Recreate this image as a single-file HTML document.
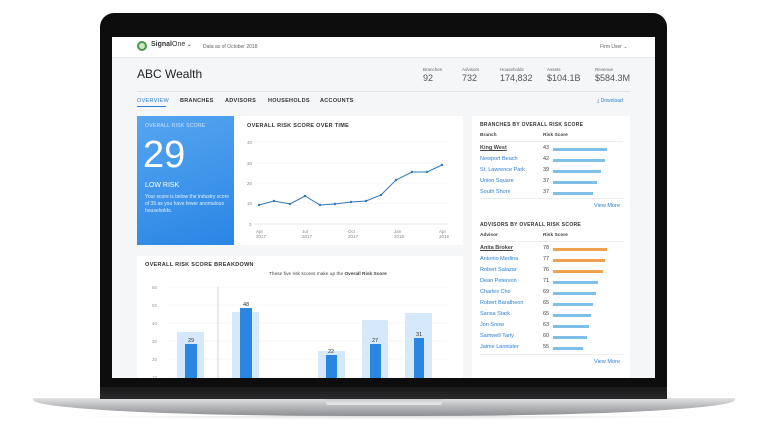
<!DOCTYPE html>
<html><head><meta charset="utf-8"><style>
*{margin:0;padding:0;box-sizing:border-box}
body{width:767px;height:431px;background:#fff;position:relative;overflow:hidden;font-family:"Liberation Sans",sans-serif}
.a{position:absolute;white-space:nowrap}
.t{font-size:5.5px;font-weight:bold;color:#333;letter-spacing:.3px}
.s{font-size:5px;color:#666}
.l{font-size:5.5px;color:#2a7fd4}
.n{font-size:5.5px;color:#444}
.bar{position:absolute;height:3px;background:#7fc0ea}
.bo{background:#f0a150}
</style></head><body>
<!-- base -->
<div class="a" style="left:33px;top:398px;width:702px;height:18px;background:linear-gradient(#e4e4e6,#b9babd 45%,#8e8f92);border-radius:2px 2px 50% 50%/2px 2px 100% 100%"></div>
<div class="a" style="left:325px;top:398px;width:118px;height:7px;background:linear-gradient(#c8c9cc,#e6e6e8);border-radius:0 0 4px 4px"></div>
<div class="a" style="left:60px;top:416px;width:648px;height:4px;background:radial-gradient(ellipse at top,#ddd,#fff 70%)"></div>
<!-- bezel -->
<div class="a" style="left:100px;top:13px;width:567px;height:386px;background:#0d0d0d;border-radius:14px 14px 0 0"></div>
<div class="a" style="left:100px;top:387px;width:567px;height:12px;background:linear-gradient(#1a1a1a,#2a2a2c)"></div>
<!-- screen -->
<div class="a" style="left:112px;top:37px;width:543px;height:341px;background:#f5f6f8;overflow:hidden">
 <div class="a" style="left:0;top:0;width:543px;height:21px;background:#fff;border-bottom:1px solid #e8e8e8"></div>
 <div class="a" style="left:25px;top:4px;width:10px;height:10px;border:2px solid #4a9a4a;border-radius:50%;background:#cfe8c8"></div>
 <div class="a" style="left:39px;top:4px;font-size:7px;font-weight:bold;color:#333">Signal<span style="font-weight:normal">One</span> <span style="font-size:5px">⌄</span></div>
 <div class="a s" style="left:91px;top:7px">Data as of October 2018</div>
 <div class="a s" style="left:488px;top:7px">Firm User ⌄</div>
 <div class="a" style="left:25px;top:30px;font-size:12px;color:#222">ABC Wealth</div>
 <div class="a s" style="left:311px;top:30px;font-size:4.5px">Branches</div><div class="a" style="left:311px;top:36px;font-size:9px;color:#555">92</div>
 <div class="a s" style="left:350px;top:30px;font-size:4.5px">Advisors</div><div class="a" style="left:350px;top:36px;font-size:9px;color:#555">732</div>
 <div class="a s" style="left:388px;top:30px;font-size:4.5px">Households</div><div class="a" style="left:388px;top:36px;font-size:9px;color:#555">174,832</div>
 <div class="a s" style="left:435px;top:30px;font-size:4.5px">Assets</div><div class="a" style="left:435px;top:36px;font-size:9px;color:#555">$104.1B</div>
 <div class="a s" style="left:483px;top:30px;font-size:4.5px">Revenue</div><div class="a" style="left:483px;top:36px;font-size:9px;color:#555">$584.3M</div>
 <div class="a" style="left:25px;top:54px;width:493px;height:1px;background:#e3e3e3"></div>
 <div class="a t" style="left:25px;top:61px;color:#2a7fd4;font-weight:normal">OVERVIEW</div>
 <div class="a" style="left:25px;top:69px;width:29px;height:1px;background:#2a7fd4"></div>
 <div class="a t" style="left:68px;top:61px">BRANCHES</div>
 <div class="a t" style="left:113px;top:61px">ADVISORS</div>
 <div class="a t" style="left:156px;top:61px">HOUSEHOLDS</div>
 <div class="a t" style="left:208px;top:61px">ACCOUNTS</div>
 <div class="a l" style="left:485px;top:61px;font-size:5px">⤓ Download</div>
 <!-- blue card -->
 <div class="a" style="left:25px;top:79px;width:97px;height:129px;background:linear-gradient(160deg,#56a6f0,#2a85e4)"></div>
 <div class="a" style="left:33px;top:86px;font-size:5px;color:#cfe6ff;letter-spacing:.3px">OVERALL RISK SCORE</div>
 <div class="a" style="left:31px;top:97px;font-size:38px;color:#fff;font-weight:300">29</div>
 <div class="a" style="left:33px;top:145px;font-size:7px;color:#fff">LOW RISK</div>
 <div class="a" style="left:33px;top:157px;font-size:5px;color:#e3f0ff;line-height:7px;white-space:normal;width:86px">Your score is below the industry score of 35 as you have fewer anomalous households.</div>
 <!-- line chart card -->
 <div class="a" style="left:122px;top:79px;width:229px;height:129px;background:#fff"></div>
 <div class="a t" style="left:135px;top:86px">OVERALL RISK SCORE OVER TIME</div>
 <svg class="a" style="left:122px;top:79px" width="229" height="129" font-family="Liberation Sans" font-size="4.5" fill="#888">
  <g stroke="#eee" stroke-width=".5"><line x1="20" y1="26" x2="215" y2="26"/><line x1="20" y1="47" x2="215" y2="47"/><line x1="20" y1="67" x2="215" y2="67"/><line x1="20" y1="87" x2="215" y2="87"/><line x1="20" y1="108" x2="215" y2="108" stroke="#ccc"/></g>
  <text x="13" y="28">40</text><text x="13" y="49">30</text><text x="13" y="69">20</text><text x="13" y="89">10</text><text x="15" y="110">0</text>
  <polyline fill="none" stroke="#2f78b8" stroke-width="1" points="25,89 40,85 56,88 71,80 86,89 101,88 117,86 132,85 147,79 162,64 178,56 193,56 208,49"/>
  <g fill="#2f78b8"><circle cx="25" cy="89" r="1.2"/><circle cx="40" cy="85" r="1.2"/><circle cx="56" cy="88" r="1.2"/><circle cx="71" cy="80" r="1.2"/><circle cx="86" cy="89" r="1.2"/><circle cx="101" cy="88" r="1.2"/><circle cx="117" cy="86" r="1.2"/><circle cx="132" cy="85" r="1.2"/><circle cx="147" cy="79" r="1.2"/><circle cx="162" cy="64" r="1.2"/><circle cx="178" cy="56" r="1.2"/><circle cx="193" cy="56" r="1.2"/><circle cx="208" cy="49" r="1.2"/></g>
  <text x="22" y="117">Apr</text><text x="22" y="122">2017</text><text x="68" y="117">Jul</text><text x="68" y="122">2017</text>
  <text x="114" y="117">Oct</text><text x="114" y="122">2017</text><text x="160" y="117">Jan</text><text x="160" y="122">2018</text><text x="205" y="117">Apr</text><text x="205" y="122">2018</text>
 </svg>
 <!-- breakdown card -->
 <div class="a" style="left:25px;top:219px;width:326px;height:140px;background:#fff"></div>
 <div class="a t" style="left:33px;top:225px">OVERALL RISK SCORE BREAKDOWN</div>
 <div class="a" style="left:157px;top:235px;font-size:4.8px;color:#444">These five risk scores make up the <b>Overall Risk Score</b></div>
 <svg class="a" style="left:25px;top:219px" width="326" height="140" font-family="Liberation Sans" font-size="4.5">
  <g stroke="#eee" stroke-width=".5"><line x1="30" y1="31" x2="310" y2="31"/><line x1="30" y1="49" x2="310" y2="49"/><line x1="30" y1="67" x2="310" y2="67"/><line x1="30" y1="85" x2="310" y2="85"/><line x1="30" y1="103" x2="310" y2="103"/><line x1="30" y1="121" x2="310" y2="121"/></g>
  <g fill="#999"><text x="15" y="33">60</text><text x="15" y="51">50</text><text x="15" y="69">40</text><text x="15" y="87">30</text><text x="15" y="105">20</text><text x="15" y="123">10</text></g>
  <line x1="81" y1="31" x2="81" y2="140" stroke="#bbb" stroke-width=".6"/>
  <g fill="#d6e9fb"><rect x="40" y="76" width="27" height="70"/><rect x="95" y="56" width="27" height="90"/><rect x="181" y="95" width="27" height="50"/><rect x="225" y="64" width="26" height="80"/><rect x="268" y="57" width="27" height="90"/></g>
  <g fill="#2a86e0"><rect x="48" y="88" width="12" height="60"/><rect x="103" y="52" width="12" height="90"/><rect x="189" y="99" width="11" height="50"/><rect x="233" y="88" width="11" height="60"/><rect x="277" y="82" width="10" height="60"/></g>
  <g fill="#333" font-size="5.5" text-anchor="middle"><text x="54" y="86">29</text><text x="109" y="50">48</text><text x="194" y="97">22</text><text x="238" y="86">27</text><text x="282" y="80">31</text></g>
 </svg>
 <!-- right card -->
 <div class="a" style="left:360px;top:79px;width:158px;height:270px;background:#fff"></div>
 <div class="a t" style="left:368px;top:85px;font-size:5px">BRANCHES BY OVERALL RISK SCORE</div>
 <div class="a n" style="left:368px;top:96px;font-size:4.8px;font-weight:bold">Branch</div><div class="a n" style="left:431px;top:96px;font-size:4.8px;font-weight:bold">Risk Score</div>
 <div class="a" style="left:368px;top:104px;width:143px;height:1px;background:#eee"></div>
 <div class="a n" style="left:368px;top:108px;text-decoration:underline;font-weight:bold">King West</div><div class="a n" style="left:431px;top:108px">43</div><div class="bar" style="left:441px;top:111px;width:54px"></div>
 <div class="a l" style="left:368px;top:119px">Newport Beach</div><div class="a n" style="left:431px;top:119px">42</div><div class="bar" style="left:441px;top:122px;width:52px"></div>
 <div class="a l" style="left:368px;top:130px">St. Lawrence Park</div><div class="a n" style="left:431px;top:130px">39</div><div class="bar" style="left:441px;top:133px;width:48px"></div>
 <div class="a l" style="left:368px;top:141px">Union Square</div><div class="a n" style="left:431px;top:141px">37</div><div class="bar" style="left:441px;top:144px;width:44px"></div>
 <div class="a l" style="left:368px;top:152px">South Shore</div><div class="a n" style="left:431px;top:152px">37</div><div class="bar" style="left:441px;top:155px;width:40px"></div>
 <div class="a" style="left:368px;top:161px;width:143px;height:1px;background:#eee"></div>
 <div class="a l" style="left:482px;top:166px">View More</div>
 <div class="a t" style="left:368px;top:185px;font-size:5px">ADVISORS BY OVERALL RISK SCORE</div>
 <div class="a n" style="left:368px;top:196px;font-size:4.8px;font-weight:bold">Advisor</div><div class="a n" style="left:431px;top:196px;font-size:4.8px;font-weight:bold">Risk Score</div>
 <div class="a" style="left:368px;top:204px;width:143px;height:1px;background:#eee"></div>
 <div class="a n" style="left:368px;top:208px;text-decoration:underline;font-weight:bold">Anita Broker</div><div class="a n" style="left:431px;top:208px">78</div><div class="bar bo" style="left:441px;top:211px;width:54px"></div>
 <div class="a l" style="left:368px;top:219px">Antonio Medina</div><div class="a n" style="left:431px;top:219px">77</div><div class="bar bo" style="left:441px;top:222px;width:52px"></div>
 <div class="a l" style="left:368px;top:230px">Robert Salazar</div><div class="a n" style="left:431px;top:230px">76</div><div class="bar bo" style="left:441px;top:233px;width:50px"></div>
 <div class="a l" style="left:368px;top:241px">Dean Peterson</div><div class="a n" style="left:431px;top:241px">71</div><div class="bar" style="left:441px;top:244px;width:45px"></div>
 <div class="a l" style="left:368px;top:252px">Charles Cho</div><div class="a n" style="left:431px;top:252px">69</div><div class="bar" style="left:441px;top:255px;width:43px"></div>
 <div class="a l" style="left:368px;top:263px">Robert Baratheon</div><div class="a n" style="left:431px;top:263px">65</div><div class="bar" style="left:441px;top:266px;width:40px"></div>
 <div class="a l" style="left:368px;top:274px">Sansa Stark</div><div class="a n" style="left:431px;top:274px">65</div><div class="bar" style="left:441px;top:277px;width:38px"></div>
 <div class="a l" style="left:368px;top:285px">Jon Snow</div><div class="a n" style="left:431px;top:285px">63</div><div class="bar" style="left:441px;top:288px;width:36px"></div>
 <div class="a l" style="left:368px;top:296px">Samwell Tarly</div><div class="a n" style="left:431px;top:296px">60</div><div class="bar" style="left:441px;top:299px;width:34px"></div>
 <div class="a l" style="left:368px;top:307px">Jaime Lannister</div><div class="a n" style="left:431px;top:307px">55</div><div class="bar" style="left:441px;top:310px;width:30px"></div>
 <div class="a" style="left:368px;top:317px;width:143px;height:1px;background:#eee"></div>
 <div class="a l" style="left:482px;top:322px">View More</div>
</div>
</body></html>
